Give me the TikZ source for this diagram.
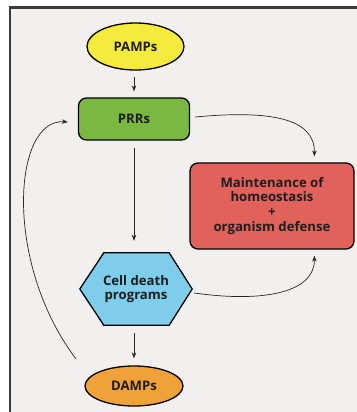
\documentclass[tikz,border=0pt]{standalone}
\usepackage{fontspec}
\setmainfont{Open Sans}
\usetikzlibrary{arrows.meta,shapes.geometric}
\definecolor{bgc}{HTML}{F1F0EF}
\definecolor{framec}{HTML}{3A3A3A}
\definecolor{yel}{HTML}{F4EB3C}
\definecolor{grn}{HTML}{7AB842}
\definecolor{redc}{HTML}{E0625B}
\definecolor{blu}{HTML}{7ECDEA}
\definecolor{org}{HTML}{EFA13A}
\definecolor{txt}{HTML}{1E1E1E}
\tikzset{
  lbl/.style={font=\fontsize{13.2}{15}\selectfont\bfseries, text=txt, align=center, inner sep=0pt},
  shapeline/.style={draw=black, line width=1.3pt},
  conn/.style={draw=black!85, line width=0.7pt, -{Stealth[length=6bp,width=4.5bp]}},
}
\begin{document}
\begin{tikzpicture}[x=1bp,y=-1bp]
\useasboundingbox (0,0) rectangle (357,412);
\clip (0,0) rectangle (357,412);
\fill[white] (0,0) rectangle (357,412);
\draw[fill=bgc, draw=framec, line width=2.5bp] (10,7.5) rectangle (365,420);
% nodes
\node[lbl, shapeline, fill=yel, ellipse, minimum width=97bp, minimum height=47bp] (pamps) at (135.5,46.5) {PAMPs};
\node[lbl, shapeline, fill=grn, rectangle, rounded corners=8bp, minimum width=111bp, minimum height=42bp] (prr) at (134,119) {PRRs};
\node[lbl, shapeline, fill=redc, rectangle, rounded corners=8bp, minimum width=164bp, minimum height=86bp, font=\fontsize{13.2}{15}\selectfont\bfseries] (red) at (272,206) {Maintenance of\\homeostasis\\+\\organism defense};
\node[lbl, rectangle, minimum width=112bp, minimum height=72bp] (hex) at (136,289) {};
\draw[shapeline, fill=blu] (hex.west) -- ([xshift=24bp]hex.north west) -- ([xshift=-23bp]hex.north east) -- (hex.east) -- ([xshift=-23bp]hex.south east) -- ([xshift=24bp]hex.south west) -- cycle;
\node[lbl, font=\fontsize{13.2}{14.5}\selectfont\bfseries] (hextext) at (hex.center) {Cell death\\programs};
\node[lbl, shapeline, fill=org, ellipse, minimum width=98bp, minimum height=40bp] (damps) at (134,386) {DAMPs};
% connectors
\coordinate (redtop) at ([xshift=125bp,yshift=6bp]red.north west);
\coordinate (redbot) at ([xshift=125bp,yshift=-6bp]red.south west);
\draw[conn] ([yshift=-6bp]pamps.south -| prr.north) -- ([yshift=6bp]prr.north);
\draw[conn] ([yshift=-7bp]prr.south) -- ([yshift=12bp]hex.north -| prr.south);
\draw[conn] ([yshift=-8bp]hex.south -| prr.south) -- ([yshift=7bp]damps.north -| prr.south);
\draw[conn] ([xshift=5bp,yshift=2bp]prr.east) .. controls (270,110) and (315,118) .. (redtop);
\draw[conn] ([xshift=2bp,yshift=-4bp]hex.east) .. controls (265,303) and (315,292) .. (redbot);
\coordinate (dstart) at (76,359);
\coordinate (prrin) at ([xshift=-10bp,yshift=-3bp]prr.west);
\draw[conn] (dstart) .. controls (3,262) and (13,118) .. (prrin);
\end{tikzpicture}
\end{document}
